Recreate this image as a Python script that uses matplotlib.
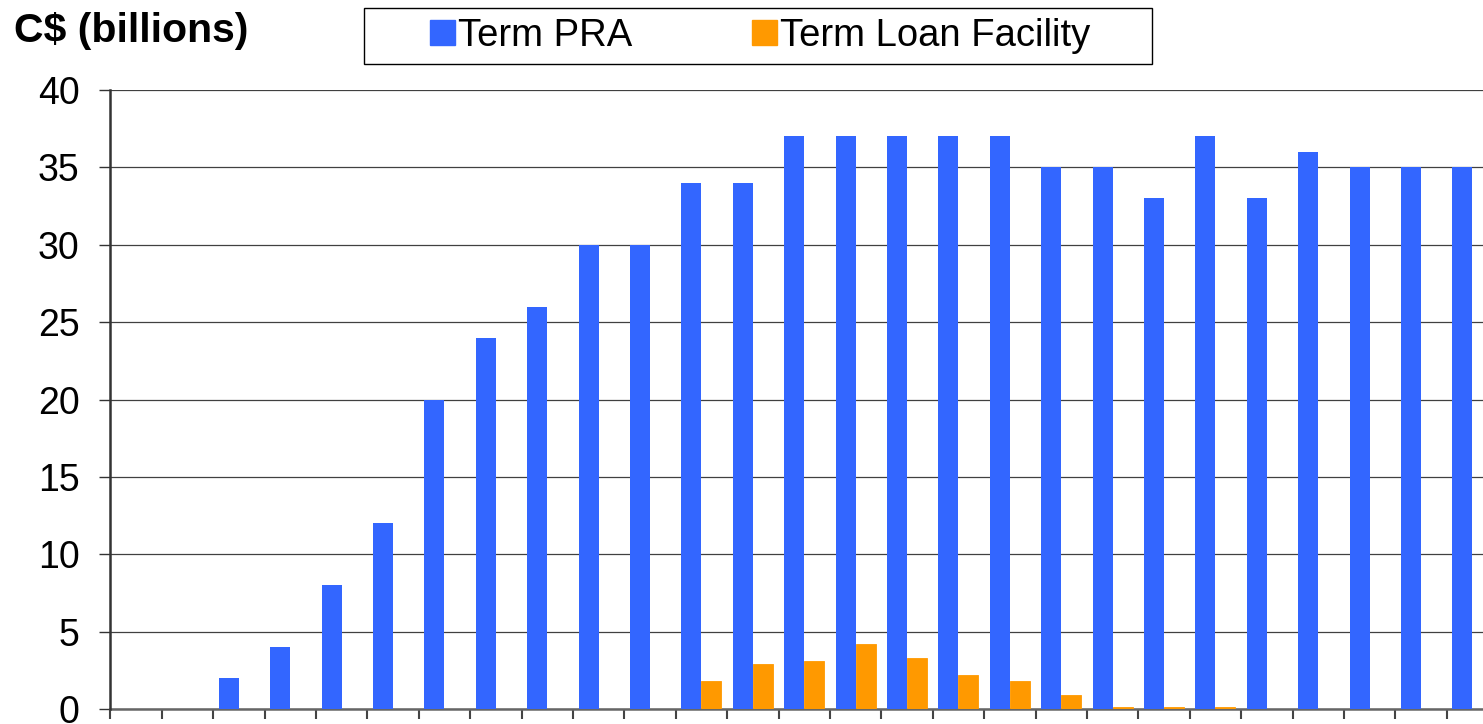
import numpy as np
import matplotlib
matplotlib.use("Agg")
import matplotlib.pyplot as plt
from matplotlib.patches import Rectangle, Patch

plt.rcParams['font.family'] = ['Liberation Sans', 'DejaVu Sans']

# one slot per auction period (no labels shown on the axis)
periods = list(range(27))
term_pra = [0, 0, 2, 4, 8, 12, 20, 24, 26, 30, 30, 34, 34, 37, 37, 37, 37, 37,
            35, 35, 33, 37, 33, 36, 35, 35, 35]
term_loan = [0, 0, 0, 0, 0, 0, 0, 0, 0, 0, 0, 1.8, 2.9, 3.1, 4.2, 3.3, 2.2, 1.8,
             0.9, 0.1, 0.1, 0.1, 0, 0, 0, 0, 0]
yticks = [0, 5, 10, 15, 20, 25, 30, 35, 40]

blue = '#3366FF'
orange = '#FF9900'

W, H = 1483, 724
fig = plt.figure(figsize=(W / 100, H / 100), dpi=100)
ax = fig.add_axes([110.3 / W, 15 / H, 27 * 51.4 / W, 619 / H])

x = np.arange(len(periods))
bw = 0.39
ax.bar(x - bw / 2, term_pra, width=bw, color=blue, zorder=3)
ax.bar(x + bw / 2, term_loan, width=bw, color=orange, edgecolor=orange,
       linewidth=0.6, zorder=3)

ax.set_xlim(-0.5, len(periods) - 0.5)
ax.set_ylim(0, 40)
ax.set_yticks(yticks)
ax.set_xticks(np.arange(-0.5, len(periods), 1))
ax.set_xticklabels([])
ax.yaxis.grid(True, color='#404040', linewidth=0.9, zorder=0)
ax.set_axisbelow(True)

for s in ['top', 'right']:
    ax.spines[s].set_visible(False)
ax.spines['left'].set_linewidth(1.8)
ax.spines['left'].set_color('#333333')
ax.spines['bottom'].set_linewidth(1.8)
ax.spines['bottom'].set_color('#666666')
ax.spines['bottom'].set_zorder(2)

ax.tick_params(axis='y', labelsize=27, length=8, width=1, color='#333333', pad=14)
ax.tick_params(axis='x', length=7, width=1.5, color='#444444', direction='out')

fig.text(14 / W, 1 - 31 / H, 'C$ (billions)', fontsize=29.5, fontweight='bold',
         va='center', ha='left')

# legend frame and entries
fig.patches.append(Rectangle((364 / W, 1 - 64 / H), 788 / W, 56 / H,
                             transform=fig.transFigure, fill=False,
                             edgecolor='black', linewidth=1))
handles = [Patch(color=blue, label='Term PRA'),
           Patch(color=orange, label='Term Loan Facility')]
fig.legend(handles=handles, loc='center left',
           bbox_to_anchor=(430 / W, 1 - 36 / H), ncol=2, frameon=False,
           fontsize=27.5, handlelength=0.65, handleheight=0.65,
           handletextpad=0.08, columnspacing=3.15, borderpad=0, borderaxespad=0)

fig.savefig('out.png', dpi=100)
